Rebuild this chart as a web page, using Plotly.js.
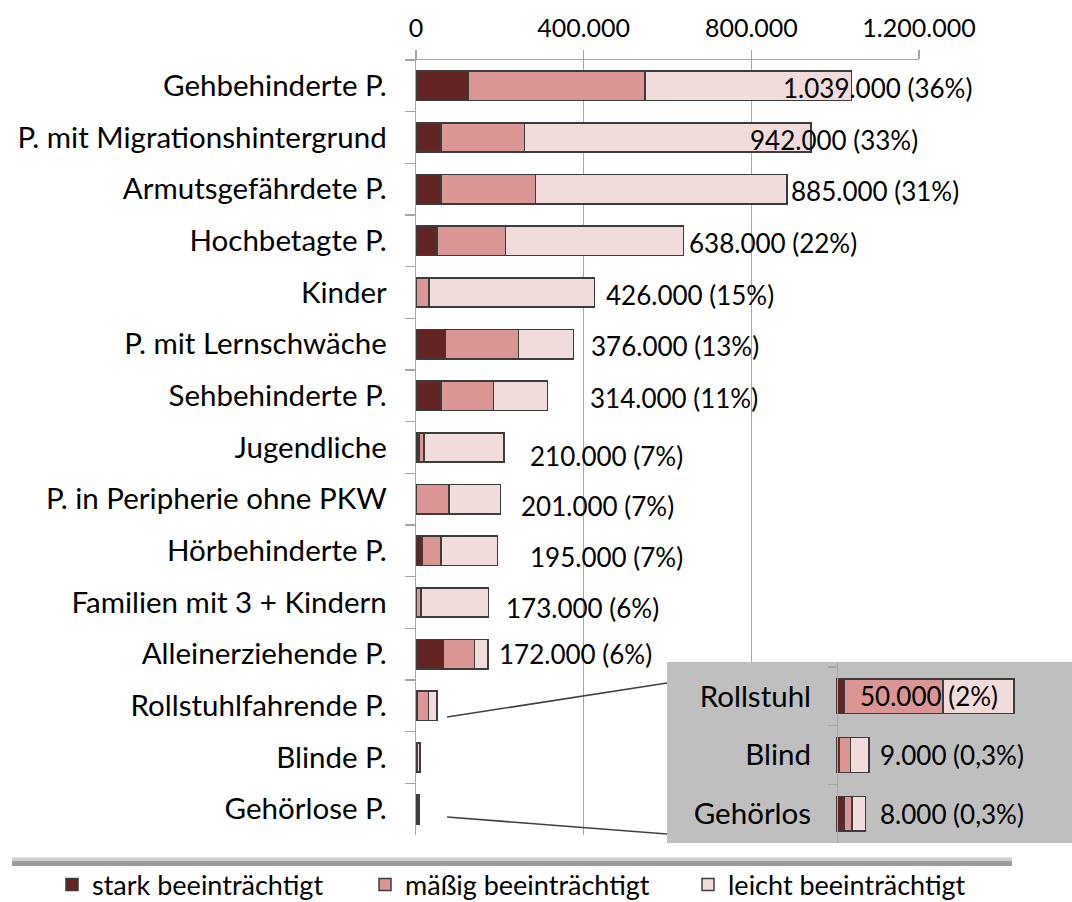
<!DOCTYPE html>
<html>
<head>
<meta charset="utf-8">
<script src="https://cdn.plot.ly/plotly-3.0.1.min.js"></script>
<style>html,body{margin:0;padding:0;background:#fff}#chart{width:1072px;height:902px}</style>
</head>
<body>
<div id="chart"></div>
<script>
// ---------- data ----------
const categories = [
  'Gehbehinderte P.', 'P. mit Migrationshintergrund', 'Armutsgefährdete P.', 'Hochbetagte P.',
  'Kinder', 'P. mit Lernschwäche', 'Sehbehinderte P.', 'Jugendliche',
  'P. in Peripherie ohne PKW', 'Hörbehinderte P.', 'Familien mit 3 + Kindern',
  'Alleinerziehende P.', 'Rollstuhlfahrende P.', 'Blinde P.', 'Gehörlose P.'
];
const stark   = [125000, 60000, 60000, 50000, 0, 70000, 60000, 7000, 0, 14000, 0, 65000, 2000, 700, 2000];
const maessig = [421000, 199000, 225000, 163000, 31000, 175000, 125000, 12000, 79000, 46000, 12000, 74000, 28000, 3100, 2200];
const leicht  = [493000, 683000, 600000, 425000, 395000, 131000, 129000, 191000, 122000, 135000, 161000, 33000, 20000, 5200, 3800];
const totals  = [1039000, 942000, 885000, 638000, 426000, 376000, 314000, 210000, 201000, 195000, 173000, 172000];
const percents = ['36%', '33%', '31%', '22%', '15%', '13%', '11%', '7%', '7%', '7%', '6%', '6%'];

const insetCategories = ['Rollstuhl', 'Blind', 'Gehörlos'];
const insetStark   = [2000, 700, 2000];
const insetMaessig = [28000, 3100, 2200];
const insetLeicht  = [20000, 5200, 3800];
const insetTotals  = [50000, 9000, 8000];
const insetPercents = ['2%', '0,3%', '0,3%'];

const seriesNames = ['stark beeinträchtigt', 'mäßig beeinträchtigt', 'leicht beeinträchtigt'];
const tickValues = [0, 400000, 800000, 1200000];

// ---------- layout helpers (positions / styles) ----------
const W = 1072, H = 902;
const fx = p => p / W, fy = p => 1 - p / H;
const colors = ['#632523', '#d99694', '#f2dcdb'];
const outline = {color: '#3c3c3c', width: 1.5};
const gridCol = '#a6a6a6';
const FONT = 'Lato, "Open Sans", sans-serif';
const catSize = 29.5;
const labelSize = 26;
const legendWidths = [268, 278, 240];
// label pixel shifts [x, y] relative to bar end
const labelShift = [[-71,-2],[-63,-2],[2,-2],[4,-2],[9,-2],[15,-2],[40,-2],[24,-8],[19,-7],[30,-6],[15,-5],[9,0]];
const insetShift = [[-156,0],[9,0],[13,0]];

const fmt = n => String(n).replace(/\B(?=(\d{3})+(?!\d))/g, '.');

const mainSeries = [stark, maessig, leicht];
const insetSeries = [insetStark, insetMaessig, insetLeicht];

const traces = [];
mainSeries.forEach((vals, i) => {
  traces.push({
    type: 'bar', orientation: 'h', name: seriesNames[i],
    x: vals, y: categories, xaxis: 'x', yaxis: 'y',
    width: 0.57, legendwidth: legendWidths[i],
    marker: {color: colors[i], line: outline},
    hoverinfo: 'skip'
  });
});
insetSeries.forEach((vals, i) => {
  traces.push({
    type: 'bar', orientation: 'h', name: seriesNames[i], showlegend: false,
    x: vals, y: insetCategories, xaxis: 'x2', yaxis: 'y2',
    width: 0.59,
    marker: {color: colors[i], line: outline},
    hoverinfo: 'skip'
  });
});

const annotations = totals.map((t, i) => ({
  x: t, y: categories[i], xref: 'x', yref: 'y',
  text: fmt(t) + ' (' + percents[i] + ')',
  showarrow: false, xanchor: 'left', yanchor: 'middle',
  xshift: labelShift[i][0], yshift: labelShift[i][1],
  font: {family: FONT, size: labelSize, color: '#000'}
})).concat(insetTotals.map((t, i) => ({
  x: t, y: insetCategories[i], xref: 'x2', yref: 'y2',
  text: fmt(t) + ' (' + insetPercents[i] + ')',
  showarrow: false, xanchor: 'left', yanchor: 'middle',
  xshift: insetShift[i][0], yshift: insetShift[i][1],
  font: {family: FONT, size: labelSize, color: '#000'}
})));

const insetRange = [-48000, 66400];

const shapes = [
  // gray background of the inset (drawn inside the inset subplot)
  {type: 'rect', xref: 'x2', yref: 'y2', x0: insetRange[0] * 2, x1: insetRange[1] * 2, y0: -2, y1: 4,
   fillcolor: '#bfbfbf', line: {width: 0}, layer: 'below'},
  // connector lines
  {type: 'line', xref: 'paper', yref: 'paper', x0: fx(447), y0: fy(717), x1: fx(667), y1: fy(683),
   line: {color: '#404040', width: 1.6}, layer: 'above'},
  {type: 'line', xref: 'paper', yref: 'paper', x0: fx(447), y0: fy(817), x1: fx(667), y1: fy(834),
   line: {color: '#404040', width: 1.6}, layer: 'above'},
  // separator bar above legend
  {type: 'rect', xref: 'paper', yref: 'paper', x0: fx(12), x1: fx(1012), y0: fy(861), y1: fy(857.5),
   fillcolor: '#cfcfcf', line: {width: 0}},
  {type: 'rect', xref: 'paper', yref: 'paper', x0: fx(12), x1: fx(1012), y0: fy(866), y1: fy(861),
   fillcolor: '#9c9c9c', line: {width: 0}}
];

const layout = {
  width: W, height: H,
  margin: {l: 0, r: 0, t: 0, b: 0, pad: 0, autoexpand: false},
  paper_bgcolor: '#fff', plot_bgcolor: '#fff',
  font: {family: FONT, size: catSize, color: '#000'},
  barmode: 'stack',
  showlegend: true,
  legend: {
    orientation: 'h', xref: 'paper', yref: 'paper',
    x: fx(52), y: fy(885), xanchor: 'left', yanchor: 'middle',
    traceorder: 'normal',
    font: {family: FONT, size: 27, color: '#000'}, bgcolor: 'rgba(0,0,0,0)'
  },
  xaxis: {
    domain: [fx(416), fx(919)], anchor: 'y', side: 'top',
    range: [0, 1200000], tickvals: tickValues, ticktext: tickValues.map(fmt),
    showgrid: true, gridcolor: gridCol, gridwidth: 1.3, zeroline: false,
    showline: true, linecolor: gridCol, linewidth: 1.3,
    ticks: 'outside', ticklen: 9, tickcolor: gridCol, tickwidth: 1.3,
    ticklabelstandoff: 3,
    tickfont: {family: FONT, size: 25, color: '#000'}, fixedrange: true
  },
  yaxis: {
    domain: [fy(835), fy(60)], anchor: 'x', type: 'category',
    categoryorder: 'array', categoryarray: categories, autorange: 'reversed',
    showgrid: false, zeroline: false, showline: true, linecolor: gridCol, linewidth: 1.3,
    ticks: 'outside', tickson: 'boundaries', ticklen: 10, tickcolor: gridCol, tickwidth: 1.3,
    ticklabelstandoff: 22,
    tickfont: {family: FONT, size: catSize, color: '#000'}, fixedrange: true
  },
  xaxis2: {
    domain: [fx(667), 1], anchor: 'y2', range: insetRange, visible: false, fixedrange: true
  },
  yaxis2: {
    domain: [fy(843), fy(662)], anchor: 'free', position: fx(837), side: 'left',
    type: 'category', categoryorder: 'array', categoryarray: insetCategories,
    range: [2.5, -0.585],
    showgrid: false, zeroline: false, showline: true, linecolor: gridCol, linewidth: 1.3,
    ticks: 'outside', tickson: 'boundaries', ticklen: 9, tickcolor: gridCol, tickwidth: 1.3,
    ticklabelstandoff: 20,
    tickfont: {family: FONT, size: catSize, color: '#000'}, fixedrange: true
  },
  annotations: annotations,
  shapes: shapes
};

Plotly.newPlot('chart', traces, layout, {displayModeBar: false, staticPlot: true});
</script>
</body>
</html>
